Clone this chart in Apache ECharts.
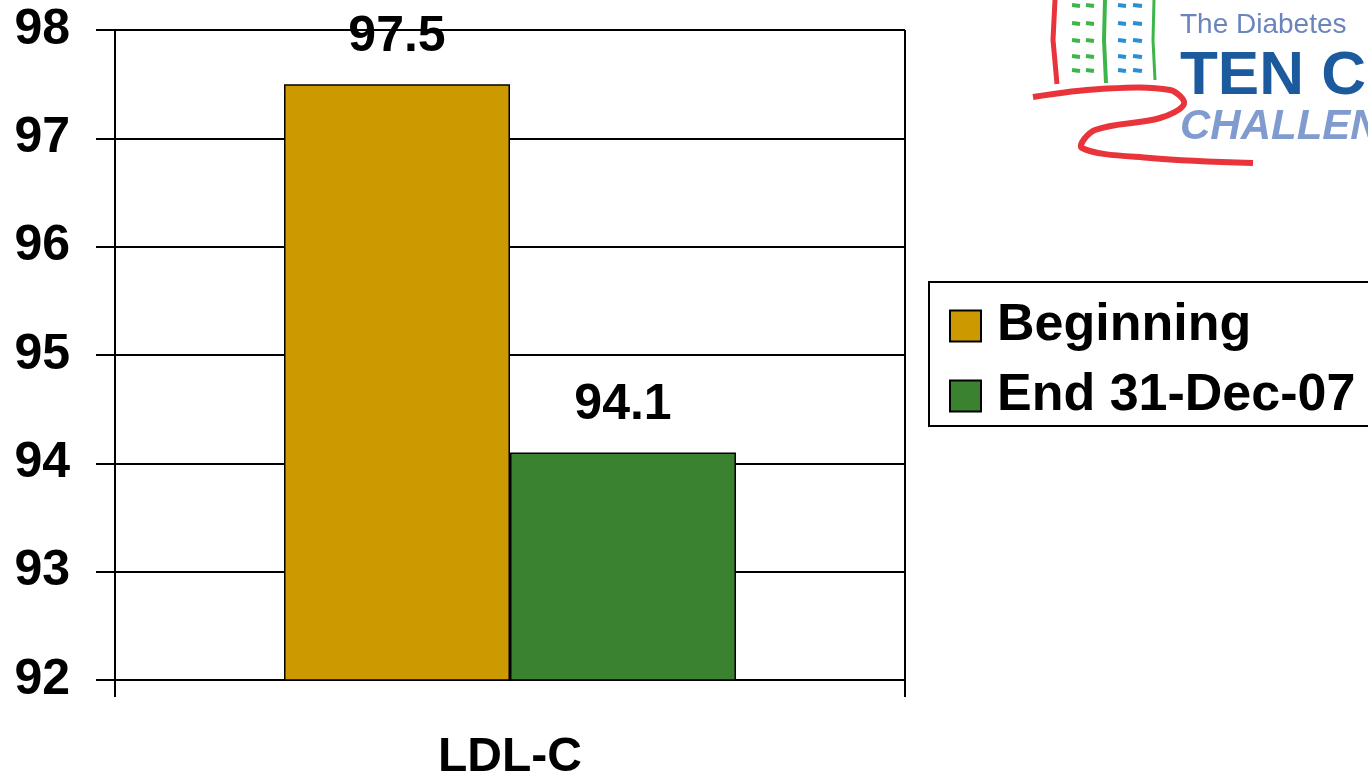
<!DOCTYPE html>
<html>
<head>
<meta charset="utf-8">
<script src="https://cdn.jsdelivr.net/npm/echarts@6/dist/echarts.min.js"></script>
<style>
html,body{margin:0;padding:0;background:#fff;}
#chart{width:1368px;height:775px;}
</style>
</head>
<body>
<div id="chart"></div>
<script>
const categories = ['LDL-C'];
const seriesNames = ['Beginning', 'End 31-Dec-07'];
const beginningValues = [97.5];
const endValues = [94.1];
const yMin = 92, yMax = 98, yStep = 1;

const FONT = '"Liberation Sans", Arial, sans-serif';
const chart = echarts.init(document.getElementById('chart'));

const option = {
  backgroundColor: '#fff',
  animation: false,
  grid: { left: 115, right: 463, top: 30, bottom: 95, containLabel: false, outerBoundsMode: 'none' },
  legend: {
    orient: 'vertical',
    left: 929,
    top: 282,
    padding: [18, 20, 4, 20],
    itemGap: 18,
    itemWidth: 31,
    itemHeight: 31,
    borderColor: '#000',
    borderWidth: 2,
    icon: 'rect',
    textStyle: { color: '#000', fontSize: 52, fontWeight: 'bold', fontFamily: FONT, padding: [0, 0, 0, 11] },
    data: seriesNames
  },
  xAxis: {
    type: 'category',
    data: categories,
    axisLine: { show: true, lineStyle: { color: '#000', width: 2 } },
    axisTick: { show: true, length: 17, lineStyle: { color: '#000', width: 2 } },
    splitLine: { show: true, lineStyle: { color: '#000', width: 2 } },
    axisLabel: { color: '#000', fontSize: 48, fontWeight: 'bold', fontFamily: FONT, margin: 54 }
  },
  yAxis: {
    type: 'value',
    min: yMin, max: yMax, interval: yStep,
    axisLine: { show: true, lineStyle: { color: '#000', width: 2 } },
    axisTick: { show: true, length: 19, lineStyle: { color: '#000', width: 2 } },
    splitLine: { show: true, lineStyle: { color: '#000', width: 2 } },
    axisLabel: { color: '#000', fontSize: 50, fontWeight: 'bold', fontFamily: FONT, margin: 45 }
  },
  series: [
    {
      name: seriesNames[0], type: 'bar', data: beginningValues,
      barWidth: 226, barGap: '0%',
      itemStyle: { color: '#CC9900', borderColor: '#000', borderWidth: 1.5 },
      label: { show: true, position: 'top', distance: 22, color: '#000', fontSize: 50, fontWeight: 'bold', fontFamily: FONT }
    },
    {
      name: seriesNames[1], type: 'bar', data: endValues,
      barWidth: 226, barGap: '0%',
      itemStyle: { color: '#3A8230', borderColor: '#000', borderWidth: 1.5 },
      label: { show: true, position: 'top', distance: 22, color: '#000', fontSize: 50, fontWeight: 'bold', fontFamily: FONT }
    }
  ],
  graphic: [
    // logo approximation (decorative)
    { type: 'polyline', shape: { points: [[1055,0],[1053,40],[1057,84]] }, style: { stroke: '#E8343A', lineWidth: 5, fill: null } },
    { type: 'polyline', shape: { points: [[1105,0],[1104,40],[1106,83]] }, style: { stroke: '#3DB54A', lineWidth: 4, fill: null } },
    { type: 'polyline', shape: { points: [[1154,0],[1153,40],[1155,80]] }, style: { stroke: '#3DB54A', lineWidth: 3, fill: null } },
    { type: 'group', children: [5, 23, 40, 56, 70].map(y => ({ type: 'group', children: [
      { type: 'line', shape: { x1: 1072, y1: y, x2: 1080, y2: y + 1 }, style: { stroke: '#3DB54A', lineWidth: 4 } },
      { type: 'line', shape: { x1: 1086, y1: y, x2: 1094, y2: y + 1 }, style: { stroke: '#3DB54A', lineWidth: 4 } },
      { type: 'line', shape: { x1: 1118, y1: y, x2: 1126, y2: y + 1 }, style: { stroke: '#2B8FD6', lineWidth: 4 } },
      { type: 'line', shape: { x1: 1133, y1: y, x2: 1142, y2: y + 1 }, style: { stroke: '#2B8FD6', lineWidth: 4 } }
    ] })) },
    { type: 'polyline', shape: { smooth: 0.35, points: [[1033,97],[1100,89],[1170,90],[1184,104],[1160,118],[1095,130],[1082,148],[1150,158],[1253,163]] }, style: { stroke: '#E8343A', lineWidth: 6, fill: null } },
    { type: 'text', left: 1180, top: 11, style: { text: 'The Diabetes', fill: '#6A84BC', font: '28px "Liberation Sans", Arial, sans-serif' } },
    { type: 'text', left: 1180, top: 46, style: { text: 'TEN CHOICES', fill: '#1B5A9C', font: 'bold 62px "Liberation Sans", Arial, sans-serif' } },
    { type: 'text', left: 1180, top: 106, style: { text: 'CHALLENGE', fill: '#809BD0', font: 'italic bold 42px "Liberation Sans", Arial, sans-serif' } }
  ]
};
chart.setOption(option);
</script>
</body>
</html>
